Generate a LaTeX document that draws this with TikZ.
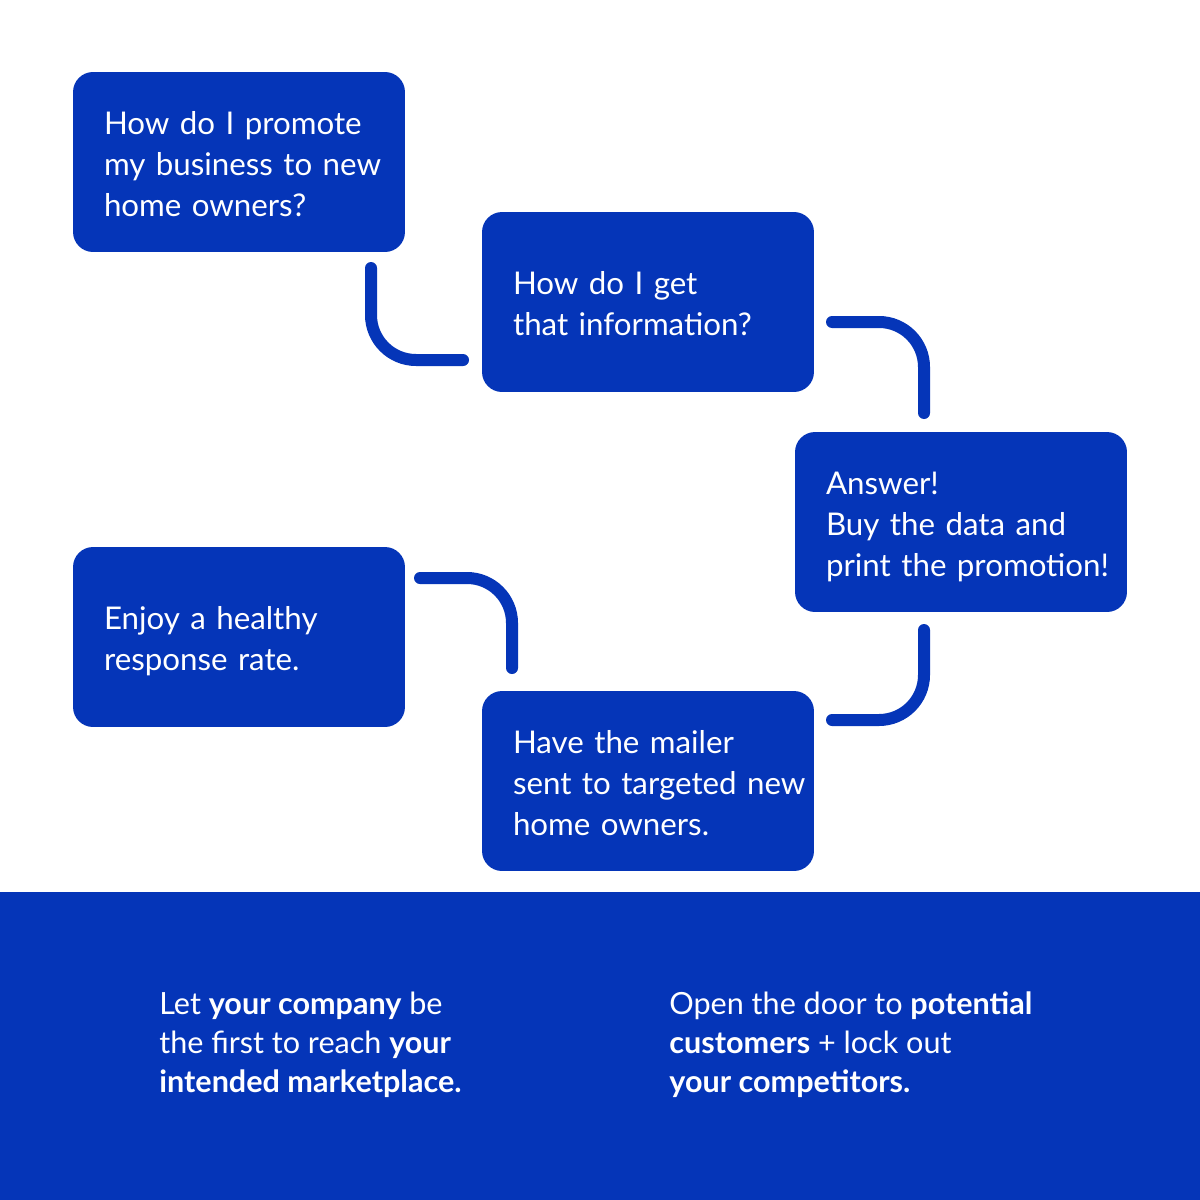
\documentclass[tikz,border=0pt]{standalone}
\usepackage{fontspec}
\setmainfont{Lato}
\usetikzlibrary{positioning}
\definecolor{brandblue}{RGB}{5,53,184}

\begin{document}
\begin{tikzpicture}[x=0.02cm, y=-0.02cm,
    stepcard/.style={fill=brandblue, text=white, rounded corners=0.4cm,
      text width=5.4cm, inner xsep=0.62cm, inner ysep=0pt,
      minimum height=3.6cm, align=left,
      font=\fontsize{17.8}{23.3}\selectfont},
    link/.style={draw=brandblue, line width=0.24cm, line cap=round,
      rounded corners=0.9cm},
    bandtext/.style={text=white, anchor=west, inner sep=0pt, align=left,
      font=\fontsize{17.4}{22.2}\selectfont}]
  % page and bottom band
  \useasboundingbox (0,0) rectangle (1200,1200);
  \fill[white] (0,0) rectangle (1200,1200);
  \fill[brandblue] (0,892) rectangle (1200,1200);

  % step cards
  \node[stepcard] (promote) at (239,162) {\begin{tabular}{@{}l@{}}How do I promote\\my business to new\\home owners?\end{tabular}\par\vspace{-0.2cm}};
  \node[stepcard] (info) at (648,302) {\begin{tabular}{@{}l@{}}How do I get\\that information?\end{tabular}\par\vspace{-0.2cm}};
  \node[stepcard] (answer) at (961,522) {\begin{tabular}{@{}l@{}}Answer!\\Buy the data and\\print the promotion!\end{tabular}\par\vspace{-0.2cm}};
  \node[stepcard] (enjoy) at (239,637) {\begin{tabular}{@{}l@{}}Enjoy a healthy\\response rate.\end{tabular}\par\vspace{-0.2cm}};
  \node[stepcard] (mailer) at (648,781) {\begin{tabular}{@{}l@{}}Have the mailer\\sent to targeted new\\home owners.\end{tabular}\par\vspace{-0.2cm}};

  % connector ends
  \coordinate (l1a) at (371,268);  \coordinate (l1b) at (463,360);
  \coordinate (l2a) at (832,322);  \coordinate (l2b) at (924,413);
  \coordinate (l3a) at (924,630);  \coordinate (l3b) at (832,720);
  \coordinate (l4a) at (420,578);  \coordinate (l4b) at (512,668);

  % connectors
  \draw[link] (l1a) |- (l1b);
  \draw[link] (l2a) -| (l2b);
  \draw[link] (l3a) |- (l3b);
  \draw[link] (l4a) -| (l4b);

  % band texts
  \node[bandtext] (firstreach) at (159,1045) {Let \textbf{your company} be\\the first to reach \textbf{your}\\\textbf{intended marketplace.}};
  \node[bandtext] (opendoor) at (669,1045) {Open the door to \textbf{potential}\\\textbf{customers} + lock out\\\textbf{your competitors.}};
\end{tikzpicture}
\end{document}
